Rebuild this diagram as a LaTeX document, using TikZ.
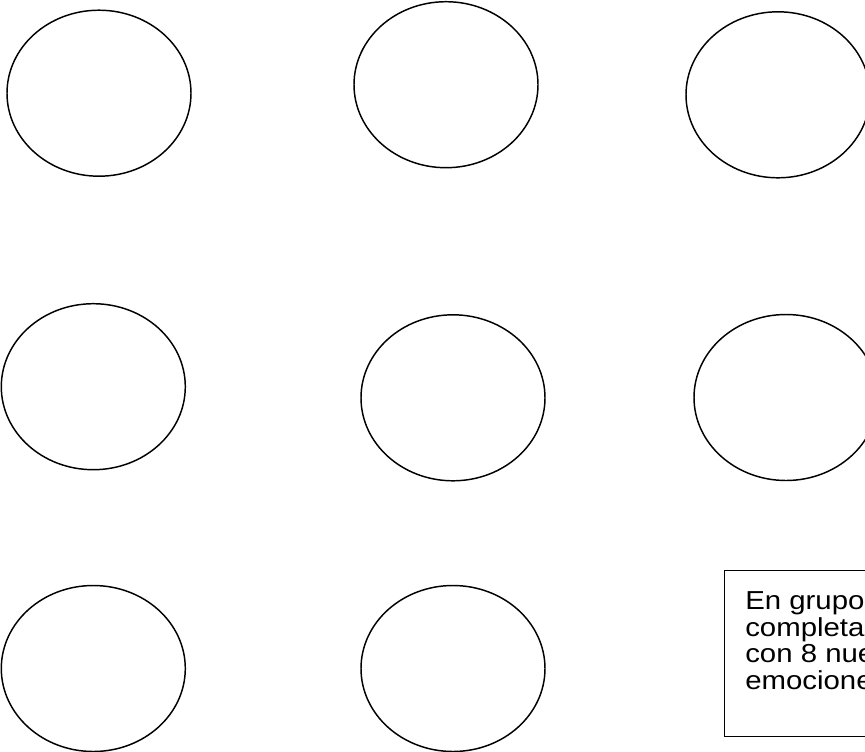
\documentclass[tikz,border=0pt]{standalone}
\usepackage{fontspec}
\setmainfont{Liberation Sans}
\usetikzlibrary{shapes.geometric}
\newcommand{\widetxt}[1]{\scalebox{1.13}[1]{#1}}
\begin{document}
\begin{tikzpicture}[x=0.75pt,y=-0.75pt,
  oval/.style={draw=black,line width=1.1pt,ellipse,inner sep=0pt,
    minimum width=184*0.75pt,minimum height=166*0.75pt},
  boxline/.style={anchor=base west,inner sep=0pt,font=\fontsize{19.5}{22}\selectfont}]
\useasboundingbox (0,0) rectangle (865,751);
\node[oval] (e1) at (99,93.2) {};
\node[oval] (e2) at (446,84.7) {};
\node[oval] (e3) at (778,94.8) {};
\node[oval] (e4) at (93.3,386.7) {};
\node[oval] (e5) at (453,397.8) {};
\node[oval] (e6) at (786,397.5) {};
\node[oval] (e7) at (93.3,668.5) {};
\node[oval] (e8) at (453,668.5) {};
\node[draw=black,line width=0.8pt,rectangle,inner sep=0pt,anchor=north west,
  minimum width=200*0.75pt,minimum height=166.5*0.75pt] (box) at (723.5,569.5) {};
\node[boxline] (t1) at (745,609.3) {\widetxt{En grupo}};
\node[boxline] (t2) at (745,636) {\widetxt{completa}};
\node[boxline] (t3) at (745,662.7) {\widetxt{con 8 nue}};
\node[boxline] (t4) at (745,689.3) {\widetxt{emocione}};
\end{tikzpicture}
\end{document}
